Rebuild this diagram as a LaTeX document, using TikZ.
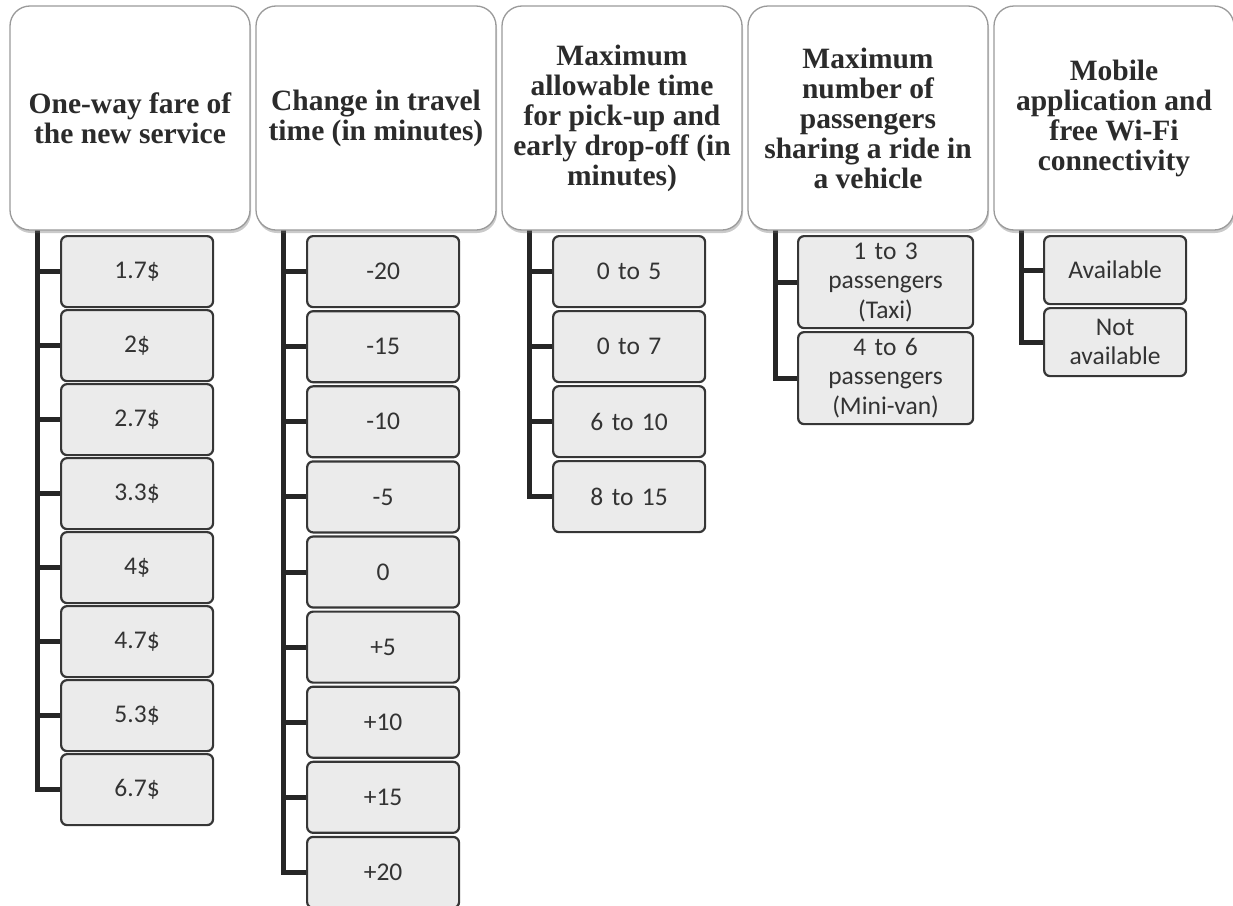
\documentclass[tikz,border=0pt]{standalone}
\usepackage{fontspec}
\setmainfont{Liberation Serif}
\newfontfamily\itemfont{Carlito}
\usetikzlibrary{shadows}
\definecolor{txt}{HTML}{333333}
\definecolor{htxt}{HTML}{2B2B2B}
\definecolor{boxfill}{HTML}{EBEBEB}
\definecolor{boxline}{HTML}{363636}
\definecolor{hline}{HTML}{9A9A9A}
\definecolor{conncol}{HTML}{262626}
\begin{document}
\begin{tikzpicture}[x=1pt,y=-1pt,
  header/.style={draw=hline, line width=1.3pt, fill=white, rounded corners=20pt,
    minimum width=240pt, minimum height=224pt, inner sep=0pt, align=center,
    font=\fontsize{29.5}{30}\selectfont\bfseries, text=htxt,
    drop shadow={opacity=0.35, shadow xshift=1pt, shadow yshift=-3pt, fill=black!60}},
  item/.style={draw=boxline, line width=2.2pt, fill=boxfill, rounded corners=6pt,
    inner sep=0pt, align=center, anchor=north west,
    font=\itemfont\fontsize{25.5}{29.5}\selectfont, text=txt},
  conn/.style={draw=conncol, line width=5pt, line join=miter}]
\useasboundingbox (0,0) rectangle (1233,905);

% coordinates for trunk tops
\coordinate (t1) at (37,230);
\coordinate (t2) at (283,230);
\coordinate (t3) at (529,230);
\coordinate (t4) at (775,230);
\coordinate (t5) at (1021,230);

% column 1
\foreach \lab [count=\i from 0] in {1.7\$,2\$,2.7\$,3.3\$,4\$,4.7\$,5.3\$,6.7\$}{
  \node[item, minimum width=152pt, text width=152pt, minimum height=71pt] (a\i) at (60,235+74*\i) {\lab};
  \draw[conn] (t1 |- a\i.west) -- (a\i.west);
}
\draw[conn] (t1) -- (t1 |- a7.west) -- (a7.west);

% column 2
\foreach \lab [count=\i from 0] in {-20,-15,-10,-5,0,+5,+10,+15,+20}{
  \node[item, minimum width=152pt, text width=152pt, minimum height=71pt] (b\i) at (306,235+75.1*\i) {\lab};
  \draw[conn] (t2 |- b\i.west) -- (b\i.west);
}
\draw[conn] (t2) -- (t2 |- b8.west) -- (b8.west);

% column 3
\foreach \lab [count=\i from 0] in {0 to 5,0 to 7,6 to 10,8 to 15}{
  \node[item, minimum width=152pt, text width=152pt, minimum height=71pt] (c\i) at (552,235+75*\i) {\lab};
  \draw[conn] (t3 |- c\i.west) -- (c\i.west);
}
\draw[conn] (t3) -- (t3 |- c3.west) -- (c3.west);

% column 4
\node[item, minimum width=175pt, text width=175pt, minimum height=92pt] (d0) at (797,235) {1 to 3\\passengers\\(Taxi)};
\node[item, minimum width=175pt, text width=175pt, minimum height=92pt] (d1) at (797,331) {4 to 6\\passengers\\(Mini-van)};
\draw[conn] (t4 |- d0.west) -- (d0.west);
\draw[conn] (t4) -- (t4 |- d1.west) -- (d1.west);

% column 5
\node[item, minimum width=142pt, text width=142pt, minimum height=68pt] (e0) at (1043,235) {Available};
\node[item, minimum width=142pt, text width=142pt, minimum height=68pt] (e1) at (1043,307) {Not\\available};
\draw[conn] (t5 |- e0.west) -- (e0.west);
\draw[conn] (t5) -- (t5 |- e1.west) -- (e1.west);

% headers
\node[header] (h1) at (130,118) {One-way fare of\\the new service};
\node[header] (h2) at (376,118) {Change in travel\\time (in minutes)};
\node[header] (h3) at (622,118) {Maximum\\allowable time\\for pick-up and\\early drop-off (in\\minutes)};
\node[header] (h4) at (868,118) {Maximum\\number of\\passengers\\sharing a ride in\\a vehicle};
\node[header] (h5) at (1114,118) {Mobile\\application and\\free Wi-Fi\\connectivity};
\end{tikzpicture}
\end{document}
